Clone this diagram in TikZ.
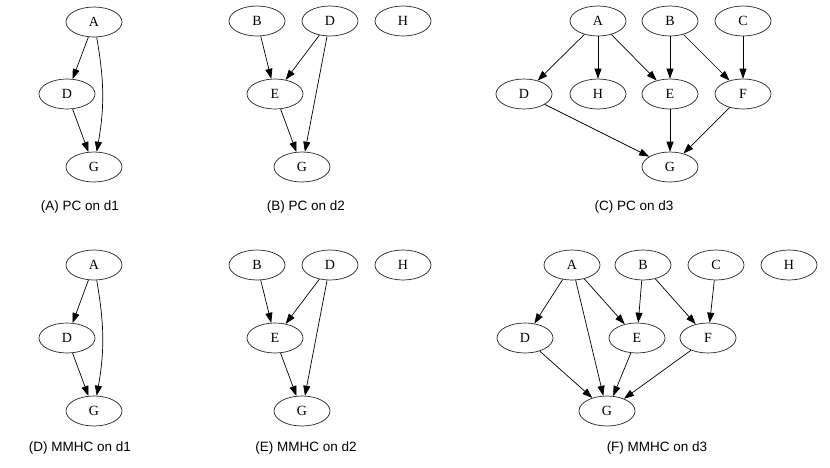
\documentclass[tikz,border=0pt]{standalone}
\usepackage{fontspec}
\setmainfont{Liberation Serif}
\setsansfont{Liberation Sans}
\usetikzlibrary{arrows.meta,shapes,positioning}

\begin{document}
\begin{tikzpicture}[x=1pt,y=-1pt,>={Triangle[length=10pt,width=7pt]},line width=0.7pt]
  \tikzstyle{vertex}=[ellipse,draw=black!85,line width=0.7pt,minimum width=56pt,minimum height=30pt,inner sep=0pt,font=\fontsize{14}{16}\selectfont]
  \tikzstyle{caption}=[font=\sffamily\fontsize{13.5}{16}\selectfont]
  \tikzstyle{every edge}=[draw,->]

  \useasboundingbox (0,0) rectangle (830,467);

  % (A) PC on d1.
  \node [vertex] (aA) at (94,22) {A};
  \node [vertex] (aD) at (67,94) {D};
  \node [vertex] (aG) at (94,167) {G};
  \node [caption] (capA) at (80,207) {(A) PC on d1};
  \path (aA) edge (aD);
  \path (aA) edge [bend left=10] (aG);
  \path (aD) edge (aG);

  % (B) PC on d2.
  \node [vertex] (bB) at (257,21) {B};
  \node [vertex] (bD) at (330,21) {D};
  \node [vertex] (bH) at (403,21) {H};
  \node [vertex] (bE) at (275,94) {E};
  \node [vertex] (bG) at (302,167) {G};
  \node [caption] (capB) at (306,207) {(B) PC on d2};
  \path (bB) edge (bE);
  \path (bD) edge (bE);
  \path (bD) edge (bG);
  \path (bE) edge (bG);

  % (C) PC on d3.
  \node [vertex] (cA) at (598,21) {A};
  \node [vertex] (cB) at (670,21) {B};
  \node [vertex] (cC) at (743,21) {C};
  \node [vertex] (cD) at (524,94) {D};
  \node [vertex] (cH) at (598,94) {H};
  \node [vertex] (cE) at (670,94) {E};
  \node [vertex] (cF) at (743,94) {F};
  \node [vertex] (cG) at (670,167) {G};
  \node [caption] (capC) at (634,207) {(C) PC on d3};
  \path (cA) edge (cD);
  \path (cA) edge (cH);
  \path (cA) edge (cE);
  \path (cB) edge (cE);
  \path (cB) edge (cF);
  \path (cC) edge (cF);
  \path (cD) edge (cG);
  \path (cE) edge (cG);
  \path (cF) edge (cG);

  % (D) MMHC on d1.
  \node [vertex] (dA) at (94,265) {A};
  \node [vertex] (dD) at (67,338) {D};
  \node [vertex] (dG) at (94,411) {G};
  \node [caption] (capD) at (80,448) {(D) MMHC on d1};
  \path (dA) edge (dD);
  \path (dA) edge [bend left=10] (dG);
  \path (dD) edge (dG);

  % (E) MMHC on d2.
  \node [vertex] (eB) at (257,265) {B};
  \node [vertex] (eD) at (330,265) {D};
  \node [vertex] (eH) at (403,265) {H};
  \node [vertex] (eE) at (275,338) {E};
  \node [vertex] (eG) at (302,411) {G};
  \node [caption] (capE) at (306,448) {(E) MMHC on d2};
  \path (eB) edge (eE);
  \path (eD) edge (eE);
  \path (eD) edge (eG);
  \path (eE) edge (eG);

  % (F) MMHC on d3.
  \node [vertex] (fA) at (572,265) {A};
  \node [vertex] (fB) at (643,265) {B};
  \node [vertex] (fC) at (716,265) {C};
  \node [vertex] (fH) at (789,265) {H};
  \node [vertex] (fD) at (525,338) {D};
  \node [vertex] (fE) at (637,338) {E};
  \node [vertex] (fF) at (708,338) {F};
  \node [vertex] (fG) at (607,411) {G};
  \node [caption] (capF) at (657,448) {(F) MMHC on d3};
  \path (fA) edge (fD);
  \path (fA) edge (fG);
  \path (fA) edge (fE);
  \path (fB) edge (fE);
  \path (fB) edge (fF);
  \path (fC) edge (fF);
  \path (fD) edge (fG);
  \path (fE) edge (fG);
  \path (fF) edge (fG);
\end{tikzpicture}
\end{document}
